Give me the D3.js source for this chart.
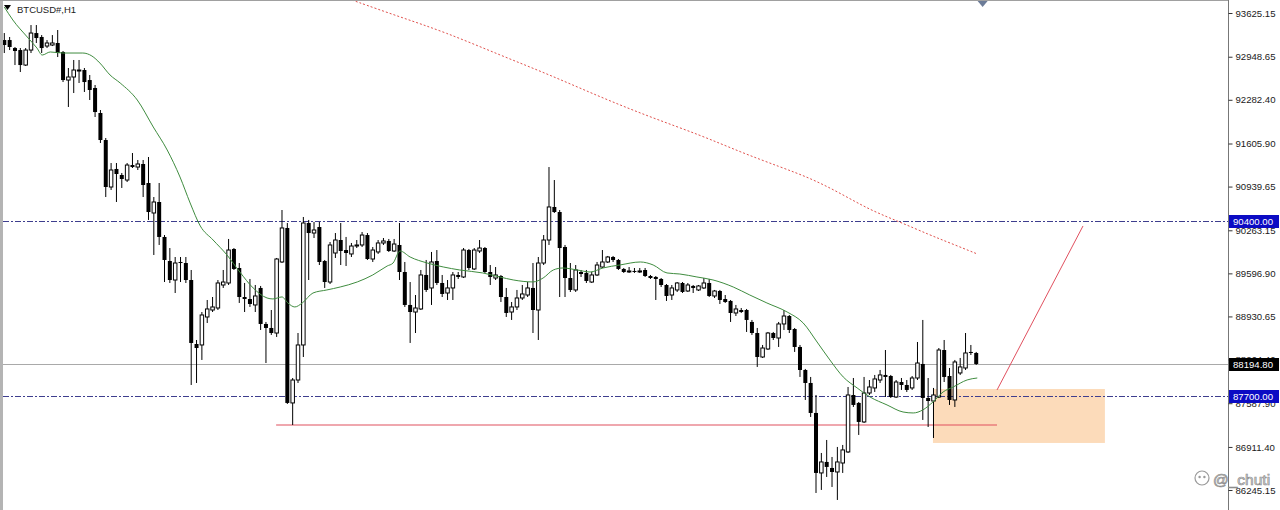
<!DOCTYPE html>
<html>
<head>
<meta charset="utf-8">
<script src="https://cdn.jsdelivr.net/npm/d3@7"></script>
<style>
  body { margin: 0; background: #fff; }
  svg { display: block; font-family: "Liberation Sans", Arial, sans-serif; }
</style>
</head>
<body>
<svg id="chart" width="1280" height="510"></svg>
<script>
const SYMBOL = "BTCUSD#,H1";

// H1 bars, oldest first
const open = [93207,93207,93083,93052,92820,93052,93315,93254,93114,93130,
  93161,93022,92588,92635,92735,92743,92588,92465,92078,91660,
  90933,91212,91119,91041,91273,91242,91289,90995,90531,90701,
  90160,89788,89494,89773,89757,89494,88504,88489,88922,89030,
  89061,89417,89448,89974,89680,89231,89200,89108,89371,88814,
  88752,88674,89773,90299,87592,87947,88489,90376,90221,90314,
  89788,89463,89912,90113,89958,89897,90020,90036,90190,89819,
  89928,90067,90098,89943,90036,89618,89108,88999,89046,89572,
  89371,89788,89448,89293,89371,89572,89541,89958,89665,89943,
  89989,89618,89525,89556,89231,88999,89077,89216,89262,89371,
  89030,89757,90113,90624,90546,90005,89525,89340,89618,89603,
  89463,89572,89695,89773,89850,89804,89665,89626,89634,89626,
  89649,89556,89541,89510,89417,89262,89340,89448,89324,89402,
  89340,89371,89448,89247,89324,89200,89170,88984,89030,89030,
  88845,88674,88303,88427,88674,88597,88814,88937,88736,88458,
  88102,87901,87437,86509,86679,86586,86524,86663,86834,87715,
  87592,87298,87746,87824,87947,88025,88009,87684,87916,87870,
  87824,87978,88195,87669,87622,87684,88411,88009,87638,88056,
  88133,88381,88365];
const high = [93315,93254,93099,93083,93083,93439,93439,93284,93207,93284,
  93362,93037,92774,92898,92898,92774,92666,92511,92124,91691,
  91304,91304,91150,91304,91459,91351,91351,91397,90778,90995,
  90190,89989,89850,89850,89850,89649,88566,88999,89185,89231,
  89494,89649,90129,89989,89757,89448,89510,89417,89402,88845,
  89030,89835,90577,90376,87978,88674,90469,90423,90392,90392,
  89804,90082,90221,90376,90160,90067,90113,90237,90221,90005,
  90113,90144,90129,90129,90376,89773,89463,89262,89649,89804,
  89928,89958,89572,89494,89618,89618,89989,89974,89989,90113,
  90005,89726,89695,89572,89371,89154,89340,89417,89463,89757,
  89850,90190,91242,91041,90577,90036,89757,89726,89649,89649,
  89618,89773,89958,89866,89866,89819,89680,89695,89680,89680,
  89680,89572,89556,89525,89432,89417,89463,89463,89448,89417,
  89417,89525,89510,89340,89340,89262,89185,89108,89061,89046,
  88876,88752,88489,88690,88690,88845,89030,88953,88752,88489,
  88118,87994,87715,86818,87019,86756,86911,86942,87839,87978,
  87607,87994,87947,88025,88102,88411,88025,87947,87978,87947,
  88009,88535,88876,87978,87824,88442,88566,88133,88257,88288,
  88674,88489,88381];
const low = [93006,93052,92820,92712,92805,93006,93161,93006,93083,93114,
  92944,92557,92171,92387,92542,92403,92279,92016,91614,90778,
  90887,90701,90918,91010,91227,91196,90778,90423,89881,90036,
  89463,89448,89293,89463,89448,87870,87901,88257,88829,88999,
  89030,89371,89417,89649,89139,88999,89077,88999,88721,88210,
  88644,88613,89757,87576,87251,87901,88303,89494,90144,89726,
  89371,89432,89835,89726,89711,89850,89989,90005,89804,89773,
  89897,90036,89928,89928,89494,89077,88520,88674,89030,89309,
  89108,89417,89231,89185,89185,89510,89525,89649,89649,89912,
  89603,89417,89494,89154,88922,88876,89030,89185,89231,88674,
  88566,89726,90036,90531,89231,89231,89309,89309,89541,89448,
  89448,89556,89680,89757,89773,89649,89603,89603,89603,89603,
  89541,89510,89185,89386,89170,89185,89309,89293,89309,89293,
  89324,89355,89231,89216,89123,89139,88845,88937,88984,88690,
  88644,88149,88288,88411,88566,88458,88721,88674,88381,87994,
  87638,87375,86199,86246,86447,86292,86091,86509,86818,87530,
  87097,87282,87715,87762,87901,87684,87669,87669,87793,87762,
  87793,87947,87329,87220,87050,87669,87916,87561,87530,88025,
  88102,88334,88180];
const close = [93130,93099,93037,92820,93052,93315,93238,93083,93161,93161,
  93006,92588,92635,92743,92743,92557,92434,92093,91660,90933,
  91196,91134,91057,91273,91242,91289,90964,90546,90701,90160,
  89804,89494,89757,89757,89494,88520,88442,88953,89046,89077,
  89448,89463,89958,89665,89231,89200,89123,89247,88814,88752,
  88674,89819,90299,87592,87947,88489,90376,90221,90268,89773,
  89463,90036,90113,89943,89912,90020,90036,90190,89819,89958,
  90067,90098,89943,90051,89618,89108,88999,89061,89572,89340,
  89773,89448,89278,89371,89572,89541,89958,89680,89958,89989,
  89618,89541,89572,89231,88984,89077,89216,89278,89371,89030,
  89757,90113,90624,90546,89989,89525,89340,89649,89587,89479,
  89572,89726,89773,89850,89804,89665,89618,89634,89626,89634,
  89556,89525,89510,89417,89247,89371,89448,89309,89417,89371,
  89402,89448,89247,89324,89185,89154,88984,89046,88999,88876,
  88674,88303,88442,88674,88597,88814,88937,88721,88458,88102,
  87901,87437,86509,86679,86602,86524,86679,86865,87715,87561,
  87298,87746,87839,87963,88025,87994,87684,87916,87870,87793,
  87978,88210,87669,87622,87715,88411,87994,87638,88226,88149,
  88365,88365,88194.8];

// green moving average (bar index, price)
const maIdx = [0,1.6,4.3,6.1,7.1,8.6,11,14.7,16.4,17.9,19.8,21.7,24.9,27.9,30.5,32.9,34.8,36.7,39.1,41.7,
  44.1,46.6,49.2,50.3,52,53.1,54.4,55.8,57.8,60.4,62.9,66.1,69,71.7,72.8,74.1,76,79.2,82.2,85.3,
  89.6,92.8,95.3,99,100.9,102.8,104.6,107.3,109.7,112.1,115.3,119.1,121.5,124.1,126.5,129.7,132.7,136.5,139.6,142.8,
  146.6,149.6,152.2,154.6,157.1,159.7,162.1,165.3,168.3,170.2,172,173.9,175.8,177.7,180.3,182.2];
const maVal = [93718,93517,93254,93084,92975,93022,93006,93006,92960,92851,92666,92542,92279,91861,91506,91088,90686,90330,90113,89881,
  89618,89371,89216,89201,89232,89139,89077,89139,89293,89340,89386,89464,89572,89711,89757,89943,89850,89757,89696,89649,
  89603,89541,89495,89464,89525,89649,89680,89649,89618,89680,89727,89773,89727,89603,89587,89541,89495,89386,89262,89139,
  88999,88829,88535,88257,87994,87824,87685,87561,87452,87437,87484,87607,87762,87839,87948,87978];

// slow red dotted average
const slowIdx = [65.1,74.1,82.5,92.8,102.2,111.6,120.9,130.3,137.8,145.3,150.9,156.5,162.1,167.7,173.3,177.1,182.2];
const slowVal = [93826,93563,93331,92975,92666,92325,92016,91738,91475,91243,91072,90840,90577,90392,90191,90067,89897];

const levelPrices = [90400.00, 87700.00];
const bidPrice = 88194.80;
const supportPrice = 87251;
const supportIdx = [50.9, 185.9];
const zoneIdx = [173.9, 206.1];
const zoneVal = [86973, 87808];
const arrowIdx = [185.9, 202.0];
const arrowVal = [87793, 90330];

const tickValues = [93625.15, 92948.65, 92282.40, 91605.90, 90939.65, 90263.15,
  89596.90, 88930.65, 88264.40, 87587.90, 86911.40, 86245.15];

const svg = d3.select("#chart");
const width = 1280, height = 510;
const plotRight = 1228;

const x = d3.scaleLinear().domain([0, 229]).range([4.3, 1227.2]);
const y = d3.scaleLinear().domain([86245.15, 93625.15]).range([490, 13]);

svg.append("rect").attr("width", width).attr("height", height).attr("fill", "#fff");

svg.append("clipPath").attr("id", "plot-clip")
  .append("rect").attr("x", 3).attr("y", 1).attr("width", plotRight - 3).attr("height", height);

const plot = svg.append("g").attr("clip-path", "url(#plot-clip)");

// zone box
plot.append("rect")
  .attr("x", x(zoneIdx[0]))
  .attr("y", y(zoneVal[1]))
  .attr("width", x(zoneIdx[1]) - x(zoneIdx[0]))
  .attr("height", y(zoneVal[0]) - y(zoneVal[1]))
  .attr("fill", "#fcdbba");

plot.selectAll("line.level").data(levelPrices).join("line")
  .attr("class", "level")
  .attr("x1", 3).attr("x2", plotRight)
  .attr("y1", (d) => Math.round(y(d)) + 0.5).attr("y2", (d) => Math.round(y(d)) + 0.5)
  .attr("stroke", "#3e3e8e")
  .attr("stroke-dasharray", "6,2,2,2");

plot.append("line")
  .attr("x1", 3).attr("x2", plotRight)
  .attr("y1", Math.round(y(bidPrice)) + 0.5).attr("y2", Math.round(y(bidPrice)) + 0.5)
  .attr("stroke", "#a9a9a9");

// support line drawn 1.2px so the red reads as red
plot.append("line")
  .attr("x1", x(supportIdx[0])).attr("x2", x(supportIdx[1]))
  .attr("y1", y(supportPrice)).attr("y2", y(supportPrice))
  .attr("stroke", "#e0505f")
  .attr("stroke-width", 1.2);

const slowLine = d3.line()
  .x((d, i) => x(slowIdx[i]))
  .y((d) => y(d))
  .curve(d3.curveBasis);

plot.append("path")
  .datum(slowVal)
  .attr("fill", "none")
  .attr("stroke", "#e0504c")
  .attr("stroke-dasharray", "2,2")
  .attr("d", slowLine);

// candles
const bars = d3.range(open.length).map((i) => ({ i, o: open[i], h: high[i], l: low[i], c: close[i] }));
const up = (d) => d.c >= d.o;

const gCandles = plot.append("g");
gCandles.selectAll("line.wick").data(bars).join("line")
  .attr("class", "wick")
  .attr("x1", (d) => x(d.i)).attr("x2", (d) => x(d.i))
  .attr("y1", (d) => y(d.h)).attr("y2", (d) => y(d.l))
  .attr("stroke", "#000");

gCandles.selectAll("rect.body").data(bars).join("rect")
  .attr("class", "body")
  .attr("x", (d) => x(d.i) - (up(d) ? 1.75 : 2))
  .attr("y", (d) => y(Math.max(d.o, d.c)))
  .attr("width", (d) => (up(d) ? 3.5 : 4))
  .attr("height", (d) => Math.max(1, Math.abs(y(d.o) - y(d.c))))
  .attr("fill", (d) => (up(d) ? "#fff" : "#000"))
  .attr("stroke", (d) => (up(d) ? "#000" : "none"))
  .attr("stroke-width", 1);

const maLine = d3.line()
  .x((d, i) => x(maIdx[i]))
  .y((d) => y(d))
  .curve(d3.curveMonotoneX);

plot.append("path")
  .datum(maVal)
  .attr("fill", "none")
  .attr("stroke", "#3f8c3f")
  .attr("stroke-width", 1)
  .attr("d", maLine);

plot.append("line")
  .attr("x1", x(arrowIdx[0])).attr("y1", y(arrowVal[0]))
  .attr("x2", x(arrowIdx[1])).attr("y2", y(arrowVal[1]))
  .attr("stroke", "#e0505f");

// frame
svg.append("rect").attr("x", 0).attr("y", 0).attr("width", 3).attr("height", height).attr("fill", "#b4b4b4");
svg.append("line").attr("x1", 0).attr("x2", plotRight).attr("y1", 0.5).attr("y2", 0.5).attr("stroke", "#a0a0a0");
svg.append("line").attr("x1", plotRight + 0.5).attr("x2", plotRight + 0.5).attr("y1", 0).attr("y2", height)
  .attr("stroke", "#777");

// price axis
const axis = d3.axisRight(y)
  .tickValues(tickValues)
  .tickSize(4)
  .tickPadding(3)
  .tickFormat(d3.format(".2f"));

const gAxis = svg.append("g")
  .attr("transform", `translate(${plotRight + 0.5},0)`)
  .call(axis);
gAxis.select(".domain").remove();
gAxis.selectAll("line").attr("stroke", "#333");
gAxis.selectAll("text")
  .attr("font-family", "'Liberation Sans', Arial, sans-serif")
  .attr("font-size", 9.6)
  .attr("fill", "#1a1a1a");

const priceTags = [
  { v: levelPrices[0], bg: "#0b0bc4" },
  { v: bidPrice, bg: "#000" },
  { v: levelPrices[1], bg: "#0b0bc4" },
];
const gTags = svg.append("g");
gTags.selectAll("rect").data(priceTags).join("rect")
  .attr("x", plotRight + 1)
  .attr("y", (d) => Math.round(y(d.v)) - 6)
  .attr("width", 50)
  .attr("height", 13)
  .attr("fill", (d) => d.bg);
gTags.selectAll("text").data(priceTags).join("text")
  .attr("x", plotRight + 5)
  .attr("y", (d) => Math.round(y(d.v)) + 0.5)
  .attr("dy", "0.35em")
  .attr("font-size", 9.6)
  .attr("fill", "#fff")
  .text((d) => d.v.toFixed(2));

// symbol caption
svg.append("path").attr("d", "M4,5L11,5L7.5,10Z").attr("fill", "#000");
svg.append("text")
  .attr("x", 17).attr("y", 12.5)
  .attr("font-size", 9.5)
  .attr("fill", "#222")
  .text(SYMBOL);

// chart shift marker
const sx = x(183.2);
svg.append("path")
  .attr("d", `M${sx - 5},1L${sx + 5},1L${sx},7Z`)
  .attr("fill", "#6c7c98");

// watermark
const wm = svg.append("g").attr("transform", "translate(1202,478)");
wm.append("circle").attr("r", 7).attr("fill", "none").attr("stroke", "#9a9a9a").attr("stroke-width", 1.2);
wm.append("circle").attr("cx", -2.4).attr("cy", -1).attr("r", 1.2).attr("fill", "#9a9a9a");
wm.append("circle").attr("cx", 2.4).attr("cy", -1).attr("r", 1.2).attr("fill", "#9a9a9a");
svg.append("text")
  .attr("x", 1213).attr("y", 485)
  .attr("font-family", "'Liberation Sans', Arial, sans-serif")
  .attr("font-size", 15.5)
  .attr("fill", "#e6e6e6")
  .attr("stroke", "#8c8c8c")
  .attr("stroke-width", 0.7)
  .text("@_chuti");
</script>
</body>
</html>
